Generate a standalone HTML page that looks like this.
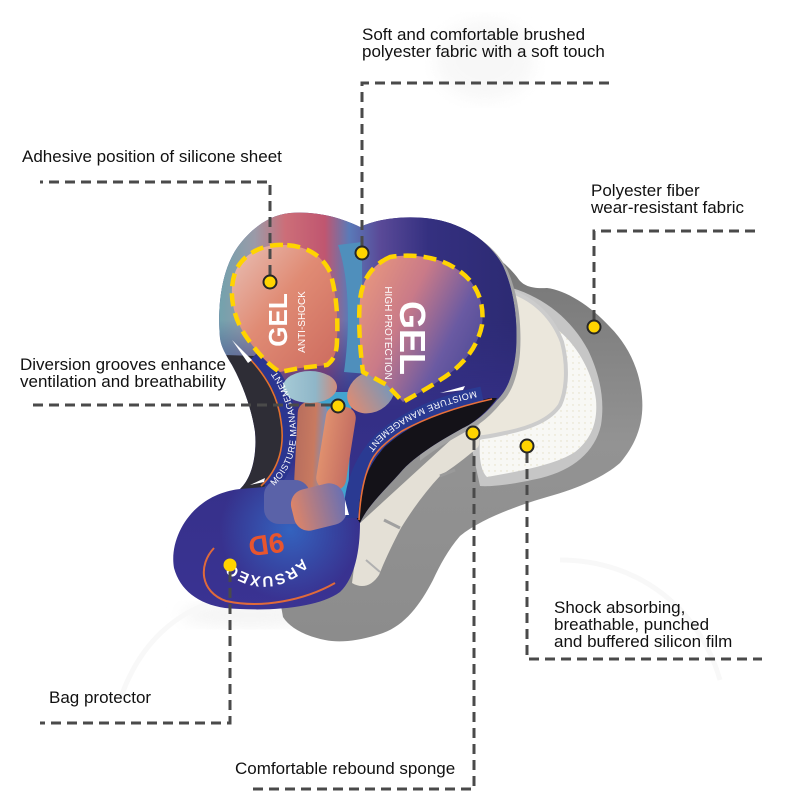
<!DOCTYPE html>
<html><head><meta charset="utf-8"><style>
html,body{margin:0;padding:0;background:#fff;}
svg{display:block;}
.lbl{font-family:"Liberation Sans",Arial,sans-serif;font-size:17px;fill:#111;}
.pt{font-family:"Liberation Sans",Arial,sans-serif;fill:#fff;}
</style></head><body>
<svg width="800" height="800" viewBox="0 0 800 800" xmlns="http://www.w3.org/2000/svg">
<defs>
  <filter id="blur8"><feGaussianBlur stdDeviation="8"/></filter>
  <filter id="blur3"><feGaussianBlur stdDeviation="3"/></filter>
  <linearGradient id="grayG" x1="0" y1="0" x2="0" y2="1">
    <stop offset="0" stop-color="#747474"/><stop offset="0.5" stop-color="#939393"/><stop offset="1" stop-color="#8c8c8c"/>
  </linearGradient>
  <linearGradient id="navyG" x1="0" y1="0" x2="0" y2="1">
    <stop offset="0" stop-color="#2e2b78"/><stop offset="1" stop-color="#3a3393"/>
  </linearGradient>
  <linearGradient id="topG" gradientUnits="userSpaceOnUse" x1="215" y1="0" x2="520" y2="0">
    <stop offset="0" stop-color="#6ea3ae"/>
    <stop offset="0.13" stop-color="#9a9aa8"/>
    <stop offset="0.23" stop-color="#cc6e78"/>
    <stop offset="0.36" stop-color="#c05670"/>
    <stop offset="0.44" stop-color="#5a7ab8"/>
    <stop offset="0.54" stop-color="#5a4a98"/>
    <stop offset="0.70" stop-color="#343080"/>
    <stop offset="1" stop-color="#2c2a72"/>
  </linearGradient>
  <linearGradient id="vfade" gradientUnits="userSpaceOnUse" x1="0" y1="320" x2="0" y2="410">
    <stop offset="0" stop-color="#fff"/><stop offset="1" stop-color="#000"/>
  </linearGradient>
  <mask id="topMask"><rect x="200" y="200" width="330" height="220" fill="url(#vfade)"/></mask>
  <radialGradient id="blueHi" cx="290" cy="530" r="70" gradientUnits="userSpaceOnUse">
    <stop offset="0" stop-color="#3468c4" stop-opacity="0.9"/><stop offset="1" stop-color="#3468c4" stop-opacity="0"/>
  </radialGradient>
  <linearGradient id="gelL" x1="0" y1="0" x2="1" y2="1">
    <stop offset="0" stop-color="#e8c0b6"/><stop offset="0.45" stop-color="#e08b74"/><stop offset="1" stop-color="#cc6a5e"/>
  </linearGradient>
  <linearGradient id="gelR" x1="0" y1="0.2" x2="1" y2="0.8">
    <stop offset="0" stop-color="#e6957f"/><stop offset="0.35" stop-color="#c97a88"/><stop offset="0.7" stop-color="#6a5aa2"/><stop offset="1" stop-color="#4a4894"/>
  </linearGradient>
  <linearGradient id="knobL" x1="0" y1="0" x2="1" y2="0">
    <stop offset="0" stop-color="#a6cad6"/><stop offset="0.6" stop-color="#8fb6c8"/><stop offset="1" stop-color="#d08c7c"/>
  </linearGradient>
  <linearGradient id="knobR" x1="0" y1="0" x2="1" y2="0">
    <stop offset="0" stop-color="#dc8c74"/><stop offset="1" stop-color="#6c98c2"/>
  </linearGradient>
  <linearGradient id="legL" x1="0" y1="0" x2="1" y2="0">
    <stop offset="0" stop-color="#b86e5e"/><stop offset="0.6" stop-color="#c87a60"/><stop offset="1" stop-color="#7a90bc"/>
  </linearGradient>
  <linearGradient id="legR" x1="0" y1="0" x2="1" y2="0">
    <stop offset="0" stop-color="#e0906e"/><stop offset="1" stop-color="#c46e62"/>
  </linearGradient>
  <linearGradient id="lowR" x1="0" y1="0" x2="1" y2="0">
    <stop offset="0" stop-color="#dd8468"/><stop offset="1" stop-color="#6a70b2"/>
  </linearGradient>
  <pattern id="dots" width="6" height="6" patternUnits="userSpaceOnUse">
    <rect width="6" height="6" fill="#f8f8f5"/><circle cx="3" cy="3" r="0.7" fill="#e4dfc4"/>
  </pattern>
  <clipPath id="rimClip"><rect x="420" y="200" width="140" height="320"/></clipPath>
  <clipPath id="padClip">
    <path id="padPath" d="M 220,338 C 217,305 222,270 237,248 C 250,230 268,215 290,213 C 315,211 340,217 360,227 C 377,219 400,216 425,218 C 458,221 488,238 503,266 C 514,290 518,320 516,350 C 514,372 508,390 497,400 C 485,415 472,424 463,428 C 445,438 415,455 400,473 C 385,490 368,505 360,523 C 360,550 355,578 340,592 C 318,608 270,612 225,608 C 198,604 180,590 174,568 C 170,545 182,518 203,503 C 215,494 230,490 240,489 C 252,478 257,455 255,432 C 252,410 243,385 232,365 C 226,355 221,347 220,338 Z"/>
  </clipPath>
</defs>

<rect width="800" height="800" fill="#fff"/>

<!-- faint background ghosts -->
<ellipse cx="485" cy="60" rx="50" ry="40" fill="#f3f3f3" filter="url(#blur8)" opacity="0.6"/>
<ellipse cx="250" cy="615" rx="70" ry="12" fill="#efefef" filter="url(#blur8)" opacity="0.7"/>
<path d="M 560,560 C 640,560 700,610 720,680" stroke="#f8f8f8" stroke-width="5" fill="none"/>
<path d="M 120,700 C 140,640 180,610 220,600" stroke="#f8f8f8" stroke-width="5" fill="none"/>

<!-- back gray layer -->
<path d="M 470,245 C 490,250 505,262 517,277 C 522,285 530,289 547,288 C 565,290 590,305 610,327 C 628,345 640,370 642,397 C 644,420 638,442 620,463 C 605,476 580,488 547,497 C 520,505 482,518 460,536 C 448,550 440,565 433,580 C 420,605 405,625 383,633 C 360,641 340,643 325,640 C 305,636 290,628 283,617 L 280,600 L 360,520 Z" fill="url(#grayG)"/>
<!-- light ring -->
<path d="M 512,288 C 545,298 572,320 588,350 C 600,375 605,400 601,425 C 595,452 573,470 541,478 C 515,484 492,487 480,486 L 470,440 L 505,400 Z" fill="#c6c6c6"/>
<!-- white dotted strip -->
<path d="M 540,318 C 572,334 592,368 596,400 C 598,424 590,440 575,452 C 555,465 520,471 487,477 C 480,470 479,455 480,440 L 520,420 Z" fill="url(#dots)"/>
<!-- cream -->
<path d="M 512,292 C 535,300 553,318 562,342 C 568,365 567,390 560,405 C 550,420 530,428 505,433 C 492,436 480,438 470,438 L 500,380 Z" fill="#ebe7dc" stroke="#cccccc" stroke-width="4"/>
<!-- lower cream blocks -->
<path d="M 466,426 C 478,432 482,440 478,447 C 466,458 452,468 440,476 C 425,492 412,510 401,528 C 392,545 385,560 379,575 C 372,586 362,589 352,583 L 360,523 Z" fill="#e4e0d6"/>
<path d="M 440,476 L 455,470" stroke="#9a9a9a" stroke-width="3"/>
<path d="M 400,528 L 384,520" stroke="#a0a0a0" stroke-width="3"/>
<path d="M 380,572 L 366,560" stroke="#b0b0b0" stroke-width="2"/>

<!-- front pad rim (right side only) -->
<g clip-path="url(#rimClip)">
  <use href="#padPath" transform="translate(4,3)" fill="#a3a3a3"/>
</g>

<!-- front pad -->
<g clip-path="url(#padClip)">
  <rect x="160" y="200" width="370" height="420" fill="url(#navyG)"/>
  <rect x="200" y="200" width="330" height="220" fill="url(#topG)" mask="url(#topMask)"/>
  <rect x="160" y="430" width="260" height="190" fill="url(#blueHi)"/>
  <path d="M 338,245 C 350,280 350,330 344,372 L 368,374 C 362,330 362,280 362,242 Z" fill="#4f8fbc"/>
  <path d="M 316,392 L 352,392 L 348,502 L 322,508 Z" fill="#42a4cf"/>
  <path d="M 225,355 C 240,380 252,410 255,432 C 257,455 252,478 240,489 L 264,487 C 281,471 290,450 287,425 C 284,400 272,378 256,356 Z" fill="#2e2d36"/>
  <path d="M 268,488 C 286,470 293,445 289,420 C 286,395 276,374 256,354" stroke="#2b3590" stroke-width="15" fill="none"/>
  <path d="M 261,486 C 279,469 285,446 281,421 C 278,398 268,378 249,358" stroke="#e27030" stroke-width="1.6" fill="none"/>
  <path d="M 497,398 C 485,415 470,425 463,428 C 445,438 415,455 400,473 C 385,490 368,505 360,523 L 356,517 C 356,500 360,480 370,452 C 380,440 390,433 400,430 C 420,420 450,408 490,398 Z" fill="#141218"/>
  <path d="M 482,394 C 440,403 405,418 380,441 C 362,460 351,485 351,518" stroke="#2a3a92" stroke-width="15" fill="none"/>
  <path d="M 492,399 C 452,408 422,420 402,431 C 387,441 374,452 369,466 C 363,481 360,500 359,520" stroke="#e8703a" stroke-width="1.6" fill="none"/>
  <rect x="296" y="402" width="30" height="88" rx="11" transform="rotate(3 311 446)" fill="url(#legL)"/>
  <rect x="321" y="406" width="30" height="84" rx="11" transform="rotate(9 336 448)" fill="url(#legR)"/>
  <rect x="264" y="480" width="46" height="44" rx="15" fill="#5a62a8"/>
  <rect x="292" y="486" width="54" height="42" rx="15" transform="rotate(-14 319 507)" fill="url(#lowR)"/>
  <ellipse cx="310" cy="387" rx="27" ry="16" fill="url(#knobL)"/>
  <ellipse cx="371" cy="392" rx="25" ry="20" transform="rotate(-30 371 392)" fill="url(#knobR)"/>
  <path d="M 283,245 C 265,244 245,252 236,270 C 228,290 232,315 245,335 C 255,350 268,365 280,372 L 300,368 L 327,365 C 334,360 337,352 337,340 C 338,320 337,295 330,272 C 322,255 305,245 283,245 Z" fill="url(#gelL)"/>
  <path d="M 390,257 C 372,265 362,280 360,300 C 358,320 360,350 363,372 L 387,385 L 403,402 C 415,395 430,387 440,380 C 460,368 477,350 482,325 C 485,300 475,280 455,268 C 440,258 415,253 390,257 Z" fill="url(#gelR)"/>
  <path d="M 214,548 C 198,565 200,592 226,601 C 262,609 305,600 335,583" stroke="#e06a3a" stroke-width="2" fill="none"/>
  <polygon points="232,340 252,360 248,363" fill="#fff"/>
  <polygon points="440,393 465,386 463,390" fill="#fff"/>
  <polygon points="250,485 265,478 264,482" fill="#fff"/>
  <polygon points="345,500 349,515 345,515" fill="#fff"/>
</g>

<!-- pad texts -->
<text class="pt" transform="translate(287,320) rotate(-90)" text-anchor="middle" font-size="26" font-weight="bold">GEL</text>
<text class="pt" transform="translate(305,322) rotate(-90)" text-anchor="middle" font-size="10">ANTI-SHOCK</text>
<text class="pt" transform="translate(400,338) rotate(90)" text-anchor="middle" font-size="36" font-weight="bold">GEL</text>
<text class="pt" transform="translate(385,333) rotate(90)" text-anchor="middle" font-size="10">HIGH PROTECTION</text>
<path id="tpL" d="M 274,486 C 293,468 299,444 295,419 C 292,396 282,375 262,354" fill="none"/>
<text class="pt" font-size="9" letter-spacing="0.6"><textPath href="#tpL">MOISTURE MANAGEMENT</textPath></text>
<path id="tpR" d="M 476,391 C 436,400 401,414 377,437 C 360,456 347,480 346,515" fill="none"/>
<text class="pt" font-size="9" letter-spacing="0.6"><textPath href="#tpR">MOISTURE MANAGEMENT</textPath></text>
<text transform="translate(265,535) rotate(172)" text-anchor="middle" font-family="Liberation Sans, Arial, sans-serif" font-size="28" font-weight="bold" fill="#e8552e">9D</text>
<path id="tpB" d="M 302,558 C 280,585 235,585 214,540" fill="none"/>
<text class="pt" font-size="15" font-weight="bold" letter-spacing="1"><textPath href="#tpB">ARSUXEO</textPath></text>

<!-- yellow dashed outlines -->
<g fill="none" stroke="#ffd400" stroke-width="4.5" stroke-dasharray="13 7">
  <path d="M 283,245 C 265,244 245,252 236,270 C 228,290 232,315 245,335 C 255,350 268,365 280,372 L 300,368 L 327,365 C 334,360 337,352 337,340 C 338,320 337,295 330,272 C 322,255 305,245 283,245 Z"/>
  <path d="M 390,257 C 372,265 362,280 360,300 C 358,320 360,350 363,372 L 387,385 L 403,402 C 415,395 430,387 440,380 C 460,368 477,350 482,325 C 485,300 475,280 455,268 C 440,258 415,253 390,257 Z"/>
</g>

<!-- leader lines -->
<g fill="none" stroke="#4a4a4a" stroke-width="3" stroke-dasharray="10 6">
  <path d="M 362,246 V 83 H 614"/>
  <path d="M 270,275 V 182 H 40"/>
  <path d="M 594,320 V 231 H 758"/>
  <path d="M 331,405 H 33"/>
  <path d="M 474,440 V 789 H 250"/>
  <path d="M 527,453 V 659 H 762"/>
  <path d="M 230,572 V 723 H 40"/>
</g>

<!-- dots -->
<g fill="#ffd400" stroke="#262626" stroke-width="2">
  <circle cx="270" cy="282" r="6.5"/>
  <circle cx="362" cy="253" r="6.5"/>
  <circle cx="594" cy="327" r="6.5"/>
  <circle cx="338" cy="406" r="6.5"/>
  <circle cx="473" cy="433" r="6.5"/>
  <circle cx="527" cy="446" r="6.5"/>
  <circle cx="230" cy="565" r="6.5" stroke="none"/>
</g>

<!-- labels -->
<text class="lbl" x="362" y="40">Soft and comfortable brushed</text>
<text class="lbl" x="362" y="57">polyester fabric with a soft touch</text>
<text class="lbl" x="22" y="162">Adhesive position of silicone sheet</text>
<text class="lbl" x="591" y="196">Polyester fiber</text>
<text class="lbl" x="591" y="213">wear-resistant fabric</text>
<text class="lbl" x="20" y="370">Diversion grooves enhance</text>
<text class="lbl" x="20" y="387">ventilation and breathability</text>
<text class="lbl" x="554" y="613">Shock absorbing,</text>
<text class="lbl" x="554" y="630">breathable, punched</text>
<text class="lbl" x="554" y="647">and buffered silicon film</text>
<text class="lbl" x="49" y="703">Bag protector</text>
<text class="lbl" x="235" y="774">Comfortable rebound sponge</text>
</svg>
</body></html>
